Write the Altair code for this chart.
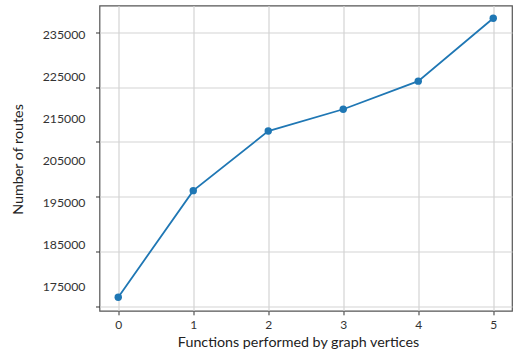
import altair as alt
import pandas as pd

# Data
functions = [0, 1, 2, 3, 4, 5]
routes = [172500, 197900, 212100, 217300, 224000, 239000]

# Tick labels shown on the y axis, and the positions of the y gridlines / tick marks
y_labels = [175000, 185000, 195000, 205000, 215000, 225000, 235000]
y_grid = [170200, 183300, 196400, 209500, 222600, 235700]
x_ticks = [0, 1, 2, 3, 4, 5]

df = pd.DataFrame({"f": functions, "r": routes})

FONT = "Lato"
BLUE = "#1f77b4"

xs = alt.Scale(domain=[-0.25, 5.25], nice=False, zero=False)
ys = alt.Scale(domain=[169255, 242030], nice=False, zero=False)

x_axis = alt.Axis(
    values=x_ticks, grid=True, gridColor="#d4d4d4", gridWidth=1.2,
    domain=False, ticks=True, tickSize=4, tickColor="#333333", tickWidth=1,
    labelFontSize=12, labelColor="#333333", labelPadding=5, labelFont=FONT,
    format="d",
    title="Functions performed by graph vertices", titleFont=FONT,
    titleFontSize=14.3, titleFontWeight="normal", titleColor="#222222",
    titleX=198.5, titleY=32, titleBaseline="middle", titleAlign="center",
)

grid_layer = alt.Chart(df).mark_line(opacity=0).encode(
    x=alt.X("f:Q", scale=xs, axis=x_axis),
    y=alt.Y("r:Q", scale=ys, axis=alt.Axis(
        orient="left", values=y_grid, grid=True, gridColor="#d4d4d4", gridWidth=1.2,
        labels=False, ticks=True, tickSize=4, tickColor="#333333", tickWidth=1,
        domain=False, title=None,
    )),
)

line_layer = alt.Chart(df).mark_line(
    color=BLUE, strokeWidth=1.8,
    point=alt.OverlayMarkDef(filled=True, size=55, color=BLUE, opacity=1),
).encode(
    x=alt.X("f:Q", scale=xs, axis=x_axis),
    y=alt.Y("r:Q", scale=ys, axis=alt.Axis(
        orient="left", values=y_labels, grid=False, ticks=False, tickSize=0,
        domain=False, labelFontSize=12.3, labelColor="#333333", labelFont=FONT,
        labelPadding=14.5, format="d",
        title="Number of routes", titleFont=FONT, titleFontSize=14.3,
        titleFontWeight="normal", titleColor="#222222",
        titleX=-81.5, titleY=153.5, titleAngle=270, titleAlign="center",
        titleBaseline="middle",
    )),
)

chart = alt.layer(grid_layer, line_layer).resolve_axis(y="independent").properties(
    width=412.5, height=305.3,
    autosize=alt.AutoSizeParams(type="none"),
    padding={"left": 99.5, "top": 5.5, "right": 4, "bottom": 42},
    background="white",
).configure_view(stroke="#555555", strokeWidth=1.2)

chart.save("out.html", embed_options={"renderer": "svg", "actions": False})
